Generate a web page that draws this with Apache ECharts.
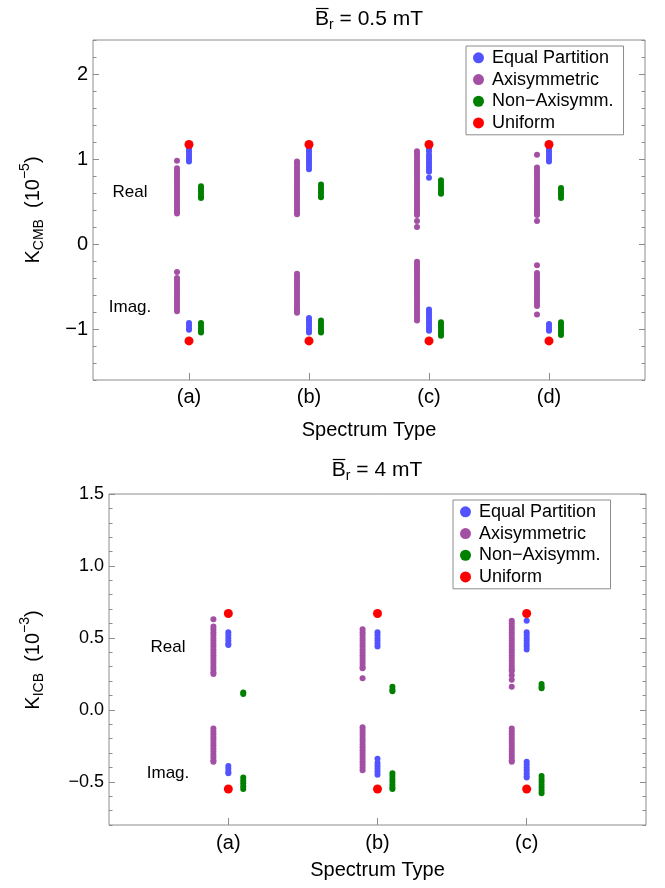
<!DOCTYPE html>
<html>
<head>
<meta charset="utf-8">
<script src="https://cdn.jsdelivr.net/npm/echarts@6/dist/echarts.min.js"></script>
<style>
  html, body { margin: 0; padding: 0; background: #ffffff; }
  #chart { width: 665px; height: 888px; }
</style>
</head>
<body>
<div id="chart"></div>
<script>
// ---------- categories, names and tick labels ----------
const spectraCmb = ['(a)', '(b)', '(c)', '(d)'];
const spectraIcb = ['(a)', '(b)', '(c)'];
const seriesNames = ['Equal Partition', 'Axisymmetric', 'Non\u2212Axisymm.', 'Uniform'];
const cmbTickValues = [-1, 0, 1, 2];
const icbTickValues = [-0.5, 0, 0.5, 1.0, 1.5];

// ---------- K_CMB (10^-5), B_r = 0.5 mT : one list per spectrum type ----------
const cmbEqualReal = [
  [1.15, 1.12, 1.09, 1.06, 1.03, 1.00, 0.97],
  [1.15, 1.12, 1.09, 1.06, 1.03, 1.00, 0.97, 0.94, 0.91, 0.88],
  [1.15, 1.12, 1.09, 1.05, 1.02, 0.99, 0.96, 0.93, 0.90, 0.87, 0.85, 0.78],
  [1.15, 1.12, 1.09, 1.06, 1.03, 1.00, 0.97]
];
const cmbEqualImag = [
  [-0.93, -0.96, -0.99, -1.01],
  [-0.87, -0.90, -0.93, -0.96, -0.99, -1.02, -1.04],
  [-0.77, -0.80, -0.83, -0.86, -0.89, -0.92, -0.95, -0.98, -1.00, -1.02],
  [-0.94, -0.97, -1.00, -1.02]
];
const cmbAxisymReal = [
  [0.98, 0.89, 0.86, 0.83, 0.80, 0.77, 0.74, 0.71, 0.68, 0.65, 0.62, 0.59, 0.56, 0.53, 0.50, 0.47, 0.44, 0.41, 0.38, 0.36],
  [0.97, 0.94, 0.91, 0.88, 0.85, 0.82, 0.79, 0.76, 0.73, 0.70, 0.67, 0.64, 0.61, 0.58, 0.55, 0.52, 0.49, 0.46, 0.43, 0.40, 0.37, 0.35],
  [1.09, 1.06, 1.03, 0.99, 0.96, 0.93, 0.90, 0.87, 0.84, 0.81, 0.78, 0.75, 0.72, 0.69, 0.66, 0.63, 0.60, 0.57, 0.54, 0.51, 0.48, 0.45, 0.42, 0.39, 0.36, 0.34, 0.27, 0.20],
  [1.05, 0.90, 0.87, 0.84, 0.81, 0.78, 0.75, 0.72, 0.69, 0.66, 0.63, 0.60, 0.57, 0.54, 0.51, 0.48, 0.45, 0.42, 0.39, 0.36, 0.34, 0.27]
];
const cmbAxisymImag = [
  [-0.33, -0.40, -0.43, -0.46, -0.49, -0.52, -0.55, -0.58, -0.61, -0.64, -0.67, -0.70, -0.73, -0.76, -0.79],
  [-0.35, -0.38, -0.41, -0.44, -0.47, -0.50, -0.53, -0.56, -0.59, -0.62, -0.65, -0.68, -0.71, -0.74, -0.77, -0.79, -0.81],
  [-0.21, -0.24, -0.27, -0.30, -0.33, -0.36, -0.39, -0.42, -0.45, -0.48, -0.51, -0.54, -0.57, -0.60, -0.63, -0.66, -0.69, -0.72, -0.75, -0.78, -0.81, -0.84, -0.87, -0.90],
  [-0.25, -0.34, -0.37, -0.40, -0.43, -0.46, -0.49, -0.52, -0.55, -0.58, -0.61, -0.64, -0.67, -0.70, -0.73, -0.83]
];
const cmbNonAxiReal = [
  [0.68, 0.65, 0.62, 0.59, 0.56, 0.54],
  [0.70, 0.67, 0.64, 0.61, 0.58, 0.55],
  [0.75, 0.72, 0.69, 0.66, 0.63, 0.60, 0.59],
  [0.66, 0.63, 0.60, 0.57, 0.54]
];
const cmbNonAxiImag = [
  [-0.93, -0.96, -0.99, -1.02, -1.04],
  [-0.90, -0.93, -0.96, -0.99, -1.02, -1.04],
  [-0.92, -0.95, -0.98, -1.01, -1.04, -1.07, -1.08],
  [-0.92, -0.95, -0.98, -1.01, -1.04, -1.07]
];
const cmbUniformReal = [[1.17], [1.17], [1.17], [1.17]];
const cmbUniformImag = [[-1.14], [-1.14], [-1.14], [-1.14]];

// ---------- K_ICB (10^-3), B_r = 4 mT ----------
const icbEqualReal = [
  [0.54, 0.52, 0.50, 0.48, 0.46, 0.45],
  [0.54, 0.52, 0.50, 0.48, 0.46, 0.44],
  [0.62, 0.54, 0.52, 0.50, 0.48, 0.46, 0.44, 0.42]
];
const icbEqualImag = [
  [-0.39, -0.41, -0.43, -0.44],
  [-0.34, -0.37, -0.39, -0.41, -0.43, -0.45],
  [-0.36, -0.38, -0.40, -0.42, -0.44, -0.46, -0.47]
];
const icbAxisymReal = [
  [0.63, 0.58, 0.56, 0.54, 0.52, 0.50, 0.48, 0.46, 0.44, 0.42, 0.40, 0.38, 0.36, 0.34, 0.32, 0.30, 0.28, 0.26, 0.25],
  [0.56, 0.54, 0.52, 0.50, 0.48, 0.46, 0.44, 0.42, 0.40, 0.38, 0.36, 0.34, 0.32, 0.30, 0.29, 0.22],
  [0.62, 0.60, 0.58, 0.56, 0.54, 0.52, 0.50, 0.48, 0.46, 0.44, 0.42, 0.40, 0.38, 0.36, 0.34, 0.32, 0.30, 0.28, 0.27, 0.24, 0.21, 0.16]
];
const icbAxisymImag = [
  [-0.13, -0.15, -0.17, -0.19, -0.21, -0.23, -0.25, -0.27, -0.29, -0.31, -0.33, -0.35, -0.36],
  [-0.12, -0.14, -0.16, -0.18, -0.20, -0.22, -0.24, -0.26, -0.28, -0.30, -0.32, -0.34, -0.36, -0.38, -0.40, -0.42],
  [-0.13, -0.15, -0.17, -0.19, -0.21, -0.23, -0.25, -0.27, -0.29, -0.31, -0.33, -0.35, -0.36]
];
const icbNonAxiReal = [
  [0.12, 0.11],
  [0.16, 0.14, 0.13],
  [0.18, 0.16, 0.15]
];
const icbNonAxiImag = [
  [-0.47, -0.49, -0.51, -0.53, -0.55],
  [-0.44, -0.46, -0.48, -0.50, -0.52, -0.54, -0.55],
  [-0.46, -0.48, -0.50, -0.52, -0.54, -0.56, -0.58]
];
const icbUniformReal = [[0.67], [0.67], [0.67]];
const icbUniformImag = [[-0.55], [-0.55], [-0.55]];

// ---------- styling ----------
const FONT = 'Liberation Sans';
const FRAME = '#8c8c8c';
const COLORS = ['#5252ff', '#a24fa4', '#008000', '#ff0000'];
const SHIFT = [0, -0.1, 0.1, 0];         // horizontal placement of each family within a spectrum slot
const MARK_SIZES = [6, 6, 6, 9];

function toPoints(realLists, imagLists, dx) {
  const pts = [];
  realLists.forEach((vals, i) => vals.forEach(v => pts.push([i + 1 + dx, v])));
  imagLists.forEach((vals, i) => vals.forEach(v => pts.push([i + 1 + dx, v])));
  return pts;
}

const minus = s => String(s).replace('-', '\u2212');

const measureCtx = document.createElement('canvas').getContext('2d');
function textWidth(str, size) {
  measureCtx.font = size + 'px "' + FONT + '"';
  return measureCtx.measureText(str).width;
}
function txt(x, y, str, size, align) {
  return {
    type: 'text', x: x, y: y, silent: true,
    style: { text: str, fontFamily: FONT, fontSize: size, fill: '#000',
             align: align || 'left', verticalAlign: 'middle' }
  };
}

// "B̄_r = ..." heading centred at (cx, cy)
function heading(cx, cy, rest) {
  const big = 21, small = 14;
  const wB = textWidth('B', big), wr = textWidth('r', small), wRest = textWidth(rest, big);
  const x0 = cx - (wB + wr + wRest) / 2;
  return {
    type: 'group', children: [
      txt(x0, cy, 'B', big),
      { type: 'line', silent: true,
        shape: { x1: x0 + 1, y1: cy - 10.5, x2: x0 + wB - 0.5, y2: cy - 10.5 },
        style: { stroke: '#000', lineWidth: 1.2 } },
      txt(x0 + wB, cy + 6, 'r', small),
      txt(x0 + wB + wr, cy, rest, big)
    ]
  };
}

// vertical "K_sub  (10^exp)" axis caption centred at (x, cy)
function axisCaption(x, cy, sub, exp) {
  const big = 20, small = 14;
  const parts = [
    ['K', big, 0], [sub, small, 6], ['  (10', big, 0], [exp, small, -8], [')', big, 0]
  ];
  const total = parts.reduce((s, p) => s + textWidth(p[0], p[1]), 0);
  let lx = -total / 2;
  const children = parts.map(p => {
    const el = txt(lx, p[2], p[0], p[1]);
    lx += textWidth(p[0], p[1]);
    return el;
  });
  return { type: 'group', x: x, y: cy, rotation: Math.PI / 2, children: children };
}

function makeSeries(gridIdx, lists) {
  return seriesNames.map((name, k) => ({
    name: name,
    type: 'scatter',
    xAxisIndex: gridIdx,
    yAxisIndex: gridIdx * 4,
    symbol: 'circle',
    symbolSize: MARK_SIZES[k],
    itemStyle: { color: COLORS[k], opacity: 1 },
    emphasis: { disabled: true },
    z: 2 + k,
    data: toPoints(lists[k][0], lists[k][1], SHIFT[k])
  }));
}

function yAxes(gridIdx, min, max, minorStep, majors, fmt) {
  const common = {
    type: 'value', gridIndex: gridIdx, min: min, max: max,
    axisLine: { show: false, onZero: false }, splitLine: { show: false }
  };
  const major = side => Object.assign({}, common, {
    position: side,
    axisTick: { show: true, inside: true, length: 6, customValues: majors,
                lineStyle: { color: FRAME, width: 1 } },
    axisLabel: side === 'left'
      ? { show: true, customValues: majors, formatter: fmt, margin: 5,
          fontFamily: FONT, fontSize: gridIdx === 0 ? 20 : 18, color: '#000' }
      : { show: false }
  });
  const minor = side => Object.assign({}, common, {
    position: side, interval: minorStep,
    axisTick: { show: true, inside: true, length: 3.5, lineStyle: { color: FRAME, width: 1 } },
    axisLabel: { show: false }
  });
  return [major('left'), minor('left'), major('right'), minor('right')];
}

function xAxis(gridIdx, max, cats, labelMargin, nameGap) {
  const ticks = cats.map((c, i) => i + 1);
  return {
    type: 'value', gridIndex: gridIdx, min: 0.2, max: max, position: 'bottom',
    axisLine: { show: false, onZero: false }, splitLine: { show: false },
    axisTick: { show: true, inside: true, length: 7, customValues: ticks,
                lineStyle: { color: FRAME, width: 1 } },
    axisLabel: { show: true, customValues: ticks, margin: labelMargin,
                 formatter: v => cats[Math.round(v) - 1] || '',
                 fontFamily: FONT, fontSize: 20, color: '#000' },
    name: 'Spectrum Type', nameLocation: 'middle', nameGap: nameGap,
    nameTextStyle: { fontFamily: FONT, fontSize: 20, color: '#000' }
  };
}

function legendBox(left, top) {
  return {
    data: seriesNames, orient: 'vertical', left: left, top: top,
    icon: 'circle', itemWidth: 11, itemHeight: 11, itemGap: 0,
    selectedMode: false,
    padding: [1, 10, 1, 7],
    borderColor: FRAME, borderWidth: 1,
    textStyle: { fontFamily: FONT, fontSize: 18, color: '#000', lineHeight: 21.7,
                 padding: [0, 0, 0, 3] }
  };
}

const chart = echarts.init(document.getElementById('chart'), null, { renderer: 'canvas' });

const option = {
  animation: false,
  backgroundColor: '#ffffff',
  grid: [
    { left: 93, top: 40, width: 552, height: 340, show: true, borderColor: FRAME, borderWidth: 1 },
    { left: 109, top: 494, width: 537, height: 331, show: true, borderColor: FRAME, borderWidth: 1 }
  ],
  legend: [legendBox(466, 46), legendBox(453, 500)],
  xAxis: [
    xAxis(0, 4.8, spectraCmb, 7, 40),
    xAxis(1, 3.8, spectraIcb, 8, 35)
  ],
  yAxis: [].concat(
    yAxes(0, -1.6, 2.4, 0.2, cmbTickValues, v => minus(v)),
    yAxes(1, -0.8, 1.5, 0.1, icbTickValues, v => minus(Number(v).toFixed(1)))
  ),
  series: [].concat(
    makeSeries(0, [
      [cmbEqualReal, cmbEqualImag],
      [cmbAxisymReal, cmbAxisymImag],
      [cmbNonAxiReal, cmbNonAxiImag],
      [cmbUniformReal, cmbUniformImag]
    ]),
    makeSeries(1, [
      [icbEqualReal, icbEqualImag],
      [icbAxisymReal, icbAxisymImag],
      [icbNonAxiReal, icbNonAxiImag],
      [icbUniformReal, icbUniformImag]
    ])
  ),
  graphic: [
    heading(369, 19, ' = 0.5 mT'),
    heading(377, 470, ' = 4 mT'),
    axisCaption(33, 210, 'CMB', '\u22125'),
    axisCaption(33, 660, 'ICB', '\u22123'),
    txt(130, 192, 'Real', 17, 'center'),
    txt(130, 307, 'Imag.', 17, 'center'),
    txt(168, 647, 'Real', 17, 'center'),
    txt(168, 773, 'Imag.', 17, 'center')
  ]
};

chart.setOption(option);
</script>
</body>
</html>
